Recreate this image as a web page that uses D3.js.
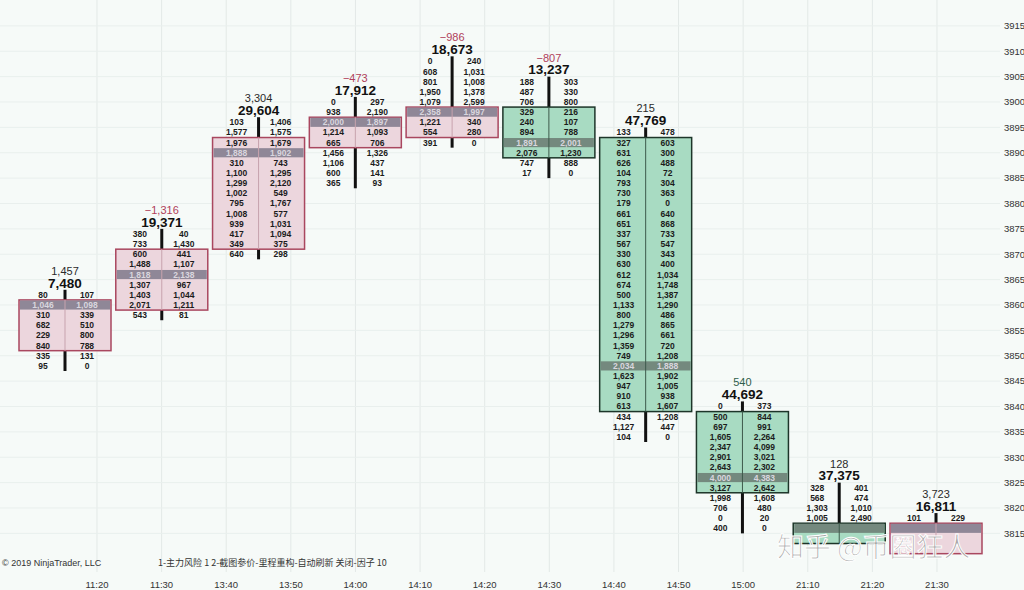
<!DOCTYPE html>
<html>
<head>
<meta charset="utf-8">
<style>
  body { margin: 0; background: #f6faf8; }
  svg { display: block; }
</style>
</head>
<body>
<script src="https://d3js.org/d3.v7.min.js"></script>
<script>

var W = 1024, H = 590;

// time axis labels (bottom)
var timeLabels = ['11:20', '11:30', '13:40', '13:50', '14:00', '14:10', '14:20',
                  '14:30', '14:40', '14:50', '15:00', '21:10', '21:20', '21:30'];

// price axis labels (right)
var priceTicks = [3915, 3910, 3905, 3900, 3895, 3890, 3885, 3880, 3875, 3870,
                  3865, 3860, 3855, 3850, 3845, 3840, 3835, 3830, 3825, 3820, 3815];

// per bar: top row price, body open / close, delta, volume, POC row index
var barHigh   = [3862, 3874, 3896, 3900, 3908, 3904, 3894, 3840, 3824, 3818];
var barOpen   = [3852, 3860, 3872, 3892, 3894, 3898, 3892, 3838, 3816, 3812];
var barClose  = [3860, 3870, 3892, 3896, 3898, 3890, 3840, 3824, 3814, 3816];
var barDelta  = [1457, -1316, 3304, -473, -986, -807, 215, 540, 128, 3723];
var barVolume = [7480, 19371, 29604, 17912, 18673, 13237, 47769, 44692, 37375, 16811];
var barPoc    = [1, 4, 3, 2, 5, 6, 23, 7, 4, 1];

// bid (left column) per price row, top to bottom; null = hidden under the watermark
var bidVol = [
  [80, 1046, 310, 682, 229, 840, 335, 95],
  [380, 733, 600, 1488, 1818, 1307, 1403, 2071, 543],
  [103, 1577, 1976, 1888, 310, 1100, 1299, 1002, 795, 1008, 939, 417, 349, 640],
  [0, 938, 2000, 1214, 665, 1456, 1106, 600, 365],
  [0, 608, 801, 1950, 1079, 2358, 1221, 554, 391],
  [188, 487, 706, 329, 240, 894, 1891, 2076, 747, 17],
  [133, 327, 631, 626, 104, 793, 730, 179, 661, 651, 337, 567, 330, 630, 612, 674,
   500, 1133, 800, 1279, 1296, 1359, 749, 2034, 1623, 947, 910, 613, 434, 1127, 104],
  [0, 500, 697, 1605, 2347, 2901, 2643, 4000, 3127, 1998, 706, 0, 400],
  [328, 568, 1303, 1005, null, null],
  [101, null, null]
];

// ask (right column) per price row, top to bottom
var askVol = [
  [107, 1098, 339, 510, 800, 788, 131, 0],
  [40, 1430, 441, 1107, 2138, 967, 1044, 1211, 81],
  [1406, 1575, 1679, 1902, 743, 1295, 2120, 549, 1767, 577, 1031, 1094, 375, 298],
  [297, 2190, 1897, 1093, 706, 1326, 437, 141, 93],
  [240, 1031, 1008, 1378, 2599, 1997, 340, 280, 0],
  [303, 330, 800, 216, 107, 788, 2001, 1230, 888, 0],
  [478, 603, 300, 488, 72, 304, 363, 0, 640, 868, 733, 547, 343, 400, 1034, 1748,
   1387, 1290, 486, 865, 661, 720, 1208, 1888, 1902, 1005, 938, 1607, 1208, 447, 0],
  [373, 844, 991, 2264, 4099, 3021, 2302, 4383, 2642, 1608, 480, 20, 0],
  [401, 474, 1010, 2490, null, null],
  [229, null, null]
];

var tickSize = 2;
var fmt = d3.format(',');
var numFont = '"Liberation Sans Narrow", "Liberation Sans", Arial, sans-serif';

var svg = d3.select('body').append('svg')
  .attr('width', W)
  .attr('height', H);

svg.append('rect').attr('width', W).attr('height', H).attr('fill', '#f6faf8');

var x = d3.scaleLinear().domain([0, barHigh.length - 1]).range([65, 936]);
var y = d3.scaleLinear().domain([3860, 3820]).range([305, 508]);
var xt = d3.scalePoint().domain(timeLabels).range([97, 937]);

var rowH = y(3860 - tickSize) - y(3860);
var halfW = 46;
var colOff = 22;
var plotBottom = 572;

svg.append('clipPath').attr('id', 'plot')
  .append('rect').attr('width', 1000).attr('height', plotBottom);

// grid
var grid = svg.append('g').attr('clip-path', 'url(#plot)');
grid.selectAll('line.v').data(timeLabels).join('line')
  .attr('class', 'v')
  .attr('x1', d => xt(d)).attr('x2', d => xt(d))
  .attr('y1', 0).attr('y2', plotBottom)
  .attr('stroke', '#e3e9e7').attr('stroke-width', 1);
grid.selectAll('line.h').data(priceTicks).join('line')
  .attr('class', 'h')
  .attr('x1', 0).attr('x2', 1000)
  .attr('y1', d => y(d)).attr('y2', d => y(d))
  .attr('stroke', '#e9efed').attr('stroke-width', 1);

// footprint bars
var bars = svg.append('g').attr('clip-path', 'url(#plot)');

barHigh.forEach(function(high, i) {
  var cx = x(i);
  var up = barClose[i] >= barOpen[i];
  var rows = bidVol[i].map((b, k) => ({ price: high - k * tickSize, bid: b, ask: askVol[i][k], k: k }));
  var low = rows[rows.length - 1].price;
  var g = bars.append('g');

  // wick
  g.append('line')
    .attr('x1', cx).attr('x2', cx)
    .attr('y1', y(high) - rowH / 2).attr('y2', y(low) + rowH / 2)
    .attr('stroke', '#111').attr('stroke-width', 3);

  // body
  var bTop = Math.max(barOpen[i], barClose[i]);
  var bBot = Math.min(barOpen[i], barClose[i]);
  var fill = up ? '#ecd6dd' : '#a8dbc2';
  var edge = up ? '#a9475f' : '#1d3529';
  g.append('rect')
    .attr('x', cx - halfW).attr('y', y(bTop) - rowH / 2)
    .attr('width', halfW * 2).attr('height', y(bBot) - y(bTop) + rowH)
    .attr('fill', fill).attr('stroke', edge).attr('stroke-width', 1.5);

  // POC band
  var pocPrice = high - barPoc[i] * tickSize;
  g.append('rect')
    .attr('x', cx - halfW + 1).attr('y', y(pocPrice) - rowH / 2 + 0.5)
    .attr('width', halfW * 2 - 2).attr('height', rowH - 1)
    .attr('fill', up ? '#8f8797' : '#74897e');

  g.append('line')
    .attr('x1', cx).attr('x2', cx)
    .attr('y1', y(bTop) - rowH / 2).attr('y2', y(bBot) + rowH / 2)
    .attr('stroke', up ? '#c7a3ae' : '#3d5a4b').attr('stroke-width', 1);

  // values
  var txt = g.selectAll('g.row').data(rows.filter(d => d.bid !== null)).join('g')
    .attr('class', 'row')
    .attr('transform', d => 'translate(0,' + y(d.price) + ')')
    .attr('font-family', numFont)
    .attr('font-size', 8.5)
    .attr('font-weight', 'bold')
    .attr('text-anchor', 'middle')
    .attr('fill', d => d.k === barPoc[i] ? '#d9d6de' : '#1b1b1b');
  txt.append('text')
    .attr('x', cx - colOff).attr('dy', '0.35em')
    .text(d => fmt(d.bid));
  txt.append('text')
    .attr('x', cx + colOff).attr('dy', '0.35em')
    .text(d => fmt(d.ask));

  // header: delta and volume
  g.append('text')
    .attr('x', cx).attr('y', y(high) - 24).attr('dy', '0.35em')
    .attr('text-anchor', 'middle')
    .attr('font-family', '"Liberation Sans", Arial, sans-serif')
    .attr('font-size', 11)
    .attr('fill', barDelta[i] < 0 ? '#b0405a' : (i === 7 ? '#2f5e4c' : '#2a2a2a'))
    .text(fmt(barDelta[i]));
  g.append('text')
    .attr('x', cx).attr('y', y(high) - 12).attr('dy', '0.35em')
    .attr('text-anchor', 'middle')
    .attr('font-family', '"Liberation Sans", Arial, sans-serif')
    .attr('font-size', 13.5)
    .attr('font-weight', 'bold')
    .attr('fill', '#111')
    .text(fmt(barVolume[i]));
});

// price axis (right)
svg.append('g').selectAll('text').data(priceTicks).join('text')
  .attr('x', 1004).attr('y', d => y(d)).attr('dy', '0.35em')
  .attr('font-family', numFont)
  .attr('font-size', 9.5)
  .attr('fill', '#333')
  .text(d => d);

// time axis (bottom)
svg.append('g').selectAll('text').data(timeLabels).join('text')
  .attr('x', d => xt(d)).attr('y', 585).attr('dy', '0.35em')
  .attr('text-anchor', 'middle')
  .attr('font-family', numFont)
  .attr('font-size', 9.5)
  .attr('fill', '#333')
  .text(d => d);

// footer texts
svg.append('text')
  .attr('x', 2).attr('y', 563).attr('dy', '0.35em')
  .attr('font-family', numFont)
  .attr('font-size', 9).attr('fill', '#333')
  .text('© 2019 NinjaTrader, LLC');
svg.append('text')
  .attr('x', 158).attr('y', 563).attr('dy', '0.35em')
  .attr('font-family', '"Noto Sans CJK SC", sans-serif')
  .attr('font-size', 9).attr('fill', '#333')
  .text('1-主力风险 1 2-截图参价-里程重构-自动刷新 关闭-因子 10');

// watermark
svg.append('text')
  .attr('x', 777).attr('y', 548).attr('dy', '0.35em')
  .attr('font-family', '"Noto Sans CJK SC", sans-serif')
  .attr('font-size', 27)
  .attr('fill', '#9d9d9d').attr('fill-opacity', 0.85)
  .attr('stroke', '#ffffff').attr('stroke-width', 1)
  .text('知乎 @币圈狂人');

</script>
</body>
</html>
